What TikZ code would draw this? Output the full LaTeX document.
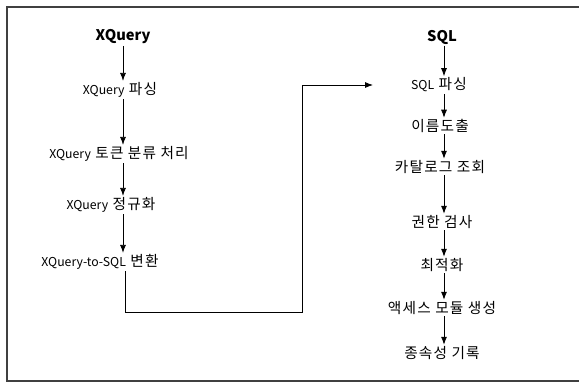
\documentclass[tikz,border=0pt]{standalone}
\usepackage{fontspec}
\setmainfont{Noto Sans CJK KR}
\usetikzlibrary{arrows.meta}
\newcommand\ko[1]{{\fontsize{11}{12}\selectfont\addfontfeature{LetterSpace=8}#1}}
\begin{document}
\begin{tikzpicture}[x=0.75pt,y=-0.75pt,
  lbl/.style={inner sep=1pt,font=\fontsize{9.2}{11}\selectfont},
  ttl/.style={inner sep=1pt,font=\fontsize{11}{13}\selectfont\bfseries},
  arr/.style={-{Latex[length=6pt,width=4.5pt]},line width=0.6pt},
  conn/.style={line width=0.7pt},
  frame/.style={line width=1.1pt,draw=black!75}]
\useasboundingbox (0,0) rectangle (579,383);
\draw[frame] (579,7) -- (7,7) -- (7,381) -- (579,381);
% left column
\node[ttl] (L0) at (123,37) {XQuery};
\node[lbl] (L1) at (120,90) {XQuery\ko{\ 파싱}};
\node[lbl] (L2) at (119,154) {XQuery\ko{\ 토큰 분류 처리}};
\node[lbl] (L3) at (111,205) {XQuery\ko{\ 정규화}};
\node[lbl] (L4) at (100,262) {XQuery-to-SQL\ko{\ 변환}};
\draw[arr] (L0.south) -- (L0.south |- L1.north);
\draw[arr] (L1.south -| L0) -- (L2.north -| L0);
\draw[arr] (L2.south -| L0) -- (L3.north -| L0);
\draw[arr] (L3.south -| L0) -- (L4.north -| L0);
% right column
\node[ttl] (R0) at (442,37) {SQL};
\node[lbl] (R1) at (439,85) {SQL\ko{\ 파싱}};
\node[lbl] (R2) at (440,126) {\ko{이름도출}};
\node[lbl] (R3) at (440,167) {\ko{카탈로그 조회}};
\node[lbl] (R4) at (442,222) {\ko{권한 검사}};
\node[lbl] (R5) at (442,265) {\ko{최적화}};
\node[lbl] (R6) at (442,308) {\ko{액세스 모듈 생성}};
\node[lbl] (R7) at (442,353) {\ko{종속성 기록}};
\coordinate (rx) at (444,0);
\draw[arr] (R0.south -| rx) -- (R1.north -| rx);
\draw[arr] (R1.south -| rx) -- (R2.north -| rx);
\draw[arr] (R2.south -| rx) -- (R3.north -| rx);
\draw[arr] (R3.south -| rx) -- (R4.north -| rx);
\draw[arr] (R4.south -| rx) -- (R5.north -| rx);
\draw[arr] (R5.south -| rx) -- (R6.north -| rx);
\draw[arr] (R6.south -| rx) -- (R7.north -| rx);
% connector
\coordinate (c0) at (125,312);
\coordinate (c1) at (302,312);
\coordinate (c2) at (302,85);
\coordinate (c3) at (373,85);
\draw[conn] (L4.south -| c0) -- (c0) -- (c1) -- (c2);
\draw[arr] (c2) -- (c3);
\end{tikzpicture}
\end{document}
